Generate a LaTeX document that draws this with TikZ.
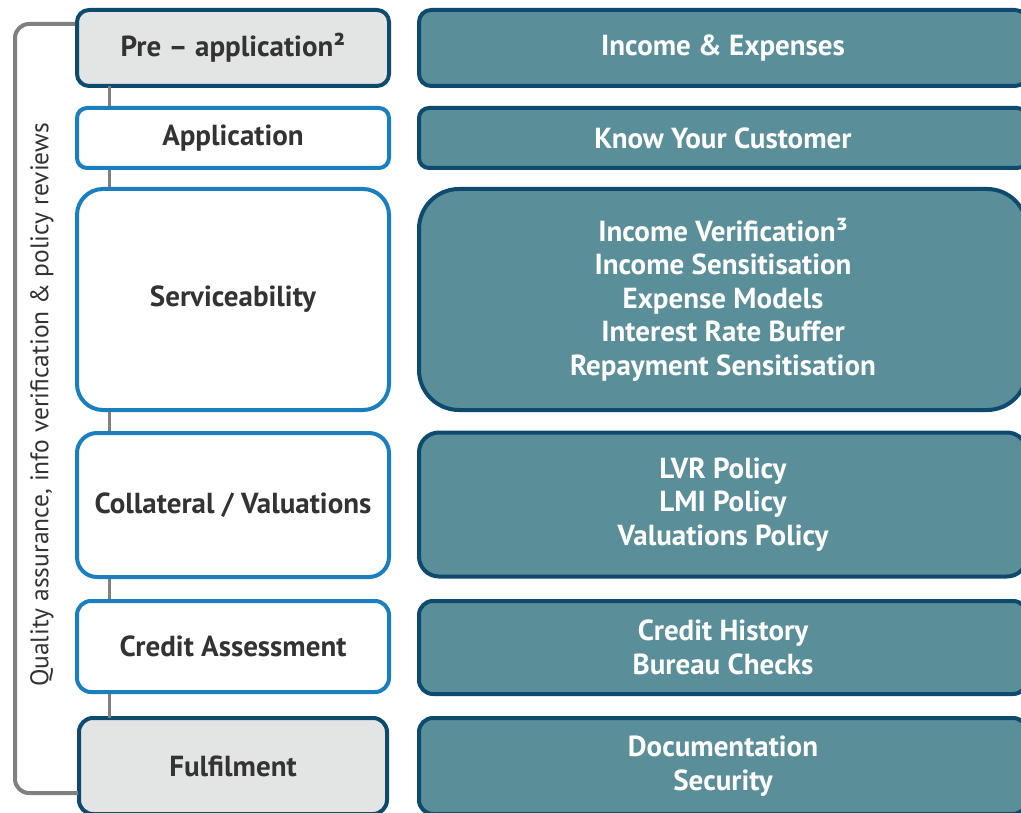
\documentclass[tikz,border=0pt]{standalone}
\usepackage{fontspec}
\setmainfont{PT Sans}
\definecolor{navy}{HTML}{0D4A6D}
\definecolor{bluebd}{HTML}{1A7FBE}
\definecolor{grayfill}{HTML}{E3E4E4}
\definecolor{teal}{HTML}{5A8F99}
\definecolor{brgray}{HTML}{808080}
\definecolor{txt}{HTML}{333333}
\begin{document}
\begin{tikzpicture}[x=1pt,y=-1pt,
  base/.style={rectangle, line width=4pt, align=center, inner sep=0pt,
    font=\fontsize{29}{33.5}\selectfont\bfseries},
  lgray/.style={base, draw=navy, fill=grayfill, text=txt, minimum width=312pt},
  lwhite/.style={base, draw=bluebd, fill=white, text=txt, minimum width=312pt},
  rteal/.style={base, draw=navy, fill=teal, text=white, minimum width=608pt},
  conn/.style={draw=brgray, line width=4pt}
]
\useasboundingbox (0,0) rectangle (1021,813);
\clip (0,0) rectangle (1021,813);
\fill[white] (0,0) rectangle (1021,813);

% left column
\node[lgray, minimum height=76pt, rounded corners=12pt] (pre) at (233,48) {Pre – application²};
\node[lwhite, minimum height=60pt, rounded corners=10pt] (app) at (233,138) {Application};
\node[lwhite, minimum height=221pt, rounded corners=26pt] (serv) at (233,299.5) {Serviceability};
\node[lwhite, minimum height=144pt, rounded corners=20pt] (coll) at (233,505) {Collateral / Valuations};
\node[lwhite, minimum height=91pt, rounded corners=14pt] (cred) at (233,646.5) {Credit Assessment};
\node[lgray, minimum width=308pt, minimum height=96pt, rounded corners=14pt] (ful) at (233,766) {Fulfilment};

% spine between left boxes
\coordinate (spT) at (109,86);
\coordinate (spB) at (109,718);
\draw[conn, line width=3pt] (spT) -- (app.north -| spT);
\draw[conn, line width=3pt] (app.south -| spT) -- (serv.north -| spT);
\draw[conn, line width=3pt] (serv.south -| spT) -- (coll.north -| spT);
\draw[conn, line width=3pt] (coll.south -| spT) -- (cred.north -| spT);
\draw[conn, line width=3pt] (cred.south -| spT) -- (spB);

% bracket
\coordinate (bT) at (75,24);
\coordinate (bB) at (78,793);
\draw[conn, rounded corners=14pt] (bT) -- (15,24) -- (15,793) -- (bB);
\node[rotate=90, text=txt, font=\fontsize{25.5}{30}\selectfont, inner sep=0pt] (qa) at (42,405)
  {Quality assurance, info verification \& policy reviews};

% right column
\node[rteal, minimum height=76pt, rounded corners=12pt] (inc) at (723,48) {Income \& Expenses};
\node[rteal, minimum height=60pt, rounded corners=10pt] (kyc) at (723,138) {Know Your Customer};
\node[rteal, minimum height=221pt, rounded corners=40pt] (rserv) at (723,299.5)
  {Income Verification³\\Income Sensitisation\\Expense Models\\Interest Rate Buffer\\Repayment Sensitisation};
\node[rteal, minimum height=144pt, rounded corners=20pt] (lvr) at (723,504.5) {LVR Policy\\LMI Policy\\Valuations Policy};
\node[rteal, minimum height=93pt, rounded corners=14pt] (hist) at (723,647.5) {Credit History\\Bureau Checks};
\node[rteal, minimum height=96pt, rounded corners=14pt] (doc) at (723,766) {Documentation\\Security};
\end{tikzpicture}
\end{document}
